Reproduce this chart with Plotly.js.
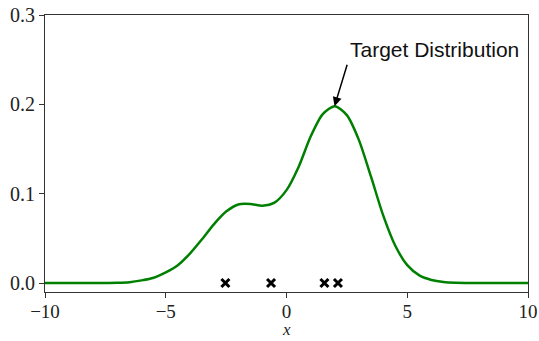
<!DOCTYPE html>
<html>
<head>
<meta charset="utf-8">
<script src="https://cdn.plot.ly/plotly-3.0.1.min.js"></script>
<style>html,body{margin:0;padding:0;background:#fff;}#chart{width:539px;height:341px;}</style>
</head>
<body>
<div id="chart"></div>
<script>
// Target density curve
const curveX = [-10, -9, -8, -7, -6.5, -6, -5.5, -5, -4.5, -4, -3.5, -3, -2.5, -2, -1.5, -1, -0.5, 0, 0.5, 1, 1.5, 2, 2.5, 3, 3.5, 4, 4.5, 5, 5.5, 6, 6.5, 7, 8, 9, 10];
const curveY = [0, 0, 0, 0.0003, 0.001, 0.003, 0.006, 0.012, 0.020, 0.033, 0.049, 0.066, 0.080, 0.088, 0.0885, 0.0866, 0.090, 0.104, 0.130, 0.164, 0.189, 0.198, 0.188, 0.160, 0.119, 0.076, 0.042, 0.020, 0.0086, 0.0035, 0.0012, 0.0004, 0, 0, 0];
// Sample points (x markers on the baseline)
const sampleX = [-2.53, -0.64, 1.57, 2.13];
const sampleY = [0, 0, 0, 0];
const xTicks = [-10, -5, 0, 5, 10];
const yTicks = [0, 0.1, 0.2, 0.3];
const xLabel = "x";
const annText = "Target Distribution";
const annHead = [1.99, 0.198];
const annTail = [2.53, 0.246];
const annTextPos = [2.53, 0.2617];

const serif = "Liberation Serif, DejaVu Serif, serif";
const traces = [
  {x: curveX, y: curveY, type: 'scatter', mode: 'lines',
   line: {color: '#008000', width: 2.5, shape: 'spline', smoothing: 0.7}, hoverinfo: 'skip'},
  {x: sampleX, y: sampleY, type: 'scatter', mode: 'markers',
   marker: {symbol: 'x-thin', size: 8, color: '#000', line: {color: '#000', width: 3}}, hoverinfo: 'skip'}
];
const layout = {
  width: 539, height: 341,
  margin: {l: 45, r: 11, t: 15, b: 49, pad: 0},
  paper_bgcolor: '#fff', plot_bgcolor: '#fff',
  showlegend: false,
  xaxis: {range: [-10, 10], tickvals: xTicks, ticks: 'outside', ticklen: 5, tickwidth: 1, tickcolor: '#333',
    showline: true, mirror: true, linecolor: '#333', linewidth: 1, showgrid: false, zeroline: false,
    ticklabelstandoff: -3,
    tickfont: {family: serif, size: 19, color: '#222'}},
  yaxis: {range: [-0.01, 0.3], tickvals: yTicks, tickformat: '.1f', ticks: 'outside', ticklen: 5, tickwidth: 1, tickcolor: '#333',
    showline: true, mirror: true, linecolor: '#333', linewidth: 1, showgrid: false, zeroline: false,
    tickfont: {family: serif, size: 20, color: '#222'}},
  annotations: [
    {x: annHead[0], y: annHead[1], xref: 'x', yref: 'y', ax: annTail[0], ay: annTail[1], axref: 'x', ayref: 'y',
     text: '', showarrow: true, arrowhead: 2, arrowsize: 1.2, arrowwidth: 1.5, arrowcolor: '#000'},
    {x: annTextPos[0], y: annTextPos[1], xref: 'x', yref: 'y', text: annText, showarrow: false,
     xanchor: 'left', yanchor: 'middle', font: {family: 'Liberation Sans, Arial, sans-serif', size: 21, color: '#111'}},
    {x: 0, y: -0.136, xref: 'x', yref: 'paper', text: '<i>' + xLabel + '</i>', showarrow: false, borderpad: 0,
     xanchor: 'center', yanchor: 'middle', font: {family: serif, size: 17, color: '#222'}}
  ]
};
Plotly.newPlot('chart', traces, layout, {staticPlot: true, displayModeBar: false});
</script>
</body>
</html>
